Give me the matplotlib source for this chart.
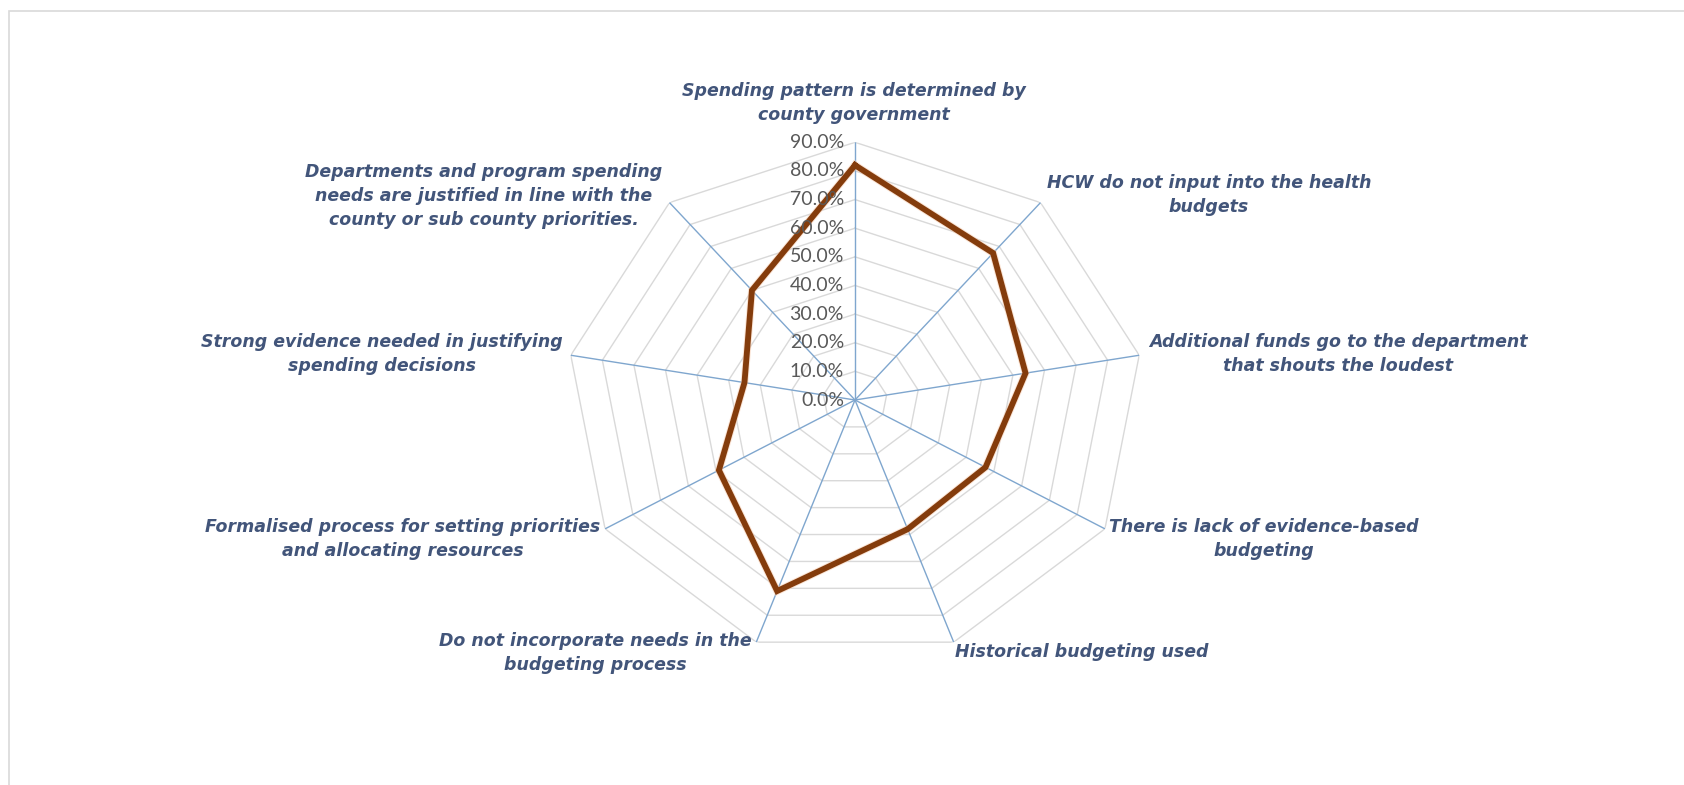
import numpy as np
import matplotlib.pyplot as plt
from matplotlib.patches import Rectangle

# survey results per statement (share of respondents)
categories = [
    "Spending pattern is determined by\ncounty government",
    "HCW do not input into the health\nbudgets",
    "Additional funds go to the department\nthat shouts the loudest",
    "There is lack of evidence-based\nbudgeting",
    "Historical budgeting used",
    "Do not incorporate needs in the\nbudgeting process",
    "Formalised process for setting priorities\nand allocating resources",
    "Strong evidence needed in justifying\nspending decisions",
    "Departments and program spending\nneeds are justified in line with the\ncounty or sub county priorities.",
]
values = [82, 67, 54, 47, 48, 71, 49, 35, 50]
levels = [0, 10, 20, 30, 40, 50, 60, 70, 80, 90]

# label anchor points in pixels (x from left, y from top)
label_pos = [(854, 103), (1209, 195), (1338, 354), (1264, 539), (1082, 652),
             (595, 653), (403, 539), (382, 354), (484, 196)]

W, H = 1684, 785
fig = plt.figure(figsize=(W / 100, H / 100), dpi=100)
fig.patch.set_facecolor("white")

# thin frame round the chart area
fig.patches.append(Rectangle((9 / W, -0.1), 1.2, 1 - 11 / H + 0.1, transform=fig.transFigure,
                             fill=False, edgecolor="#D9D9D9", linewidth=1.2))

cx, cy = 855, 400
ry, rx = 257.7, 288.6
ax = fig.add_axes([(cx - rx) / W, (H - cy - ry) / H, 2 * rx / W, 2 * ry / H], projection="polar")
ax.set_aspect("auto")
ax.set_theta_zero_location("N")
ax.set_theta_direction(-1)
ax.set_ylim(0, max(levels))
ax.grid(False)
ax.set_xticks([])
ax.set_yticks([])
ax.spines["polar"].set_visible(False)
ax.patch.set_visible(False)

n = len(categories)
angles = np.linspace(0, 2 * np.pi, n, endpoint=False)
closed = np.append(angles, angles[0])

# polygon gridlines
for lvl in levels[1:]:
    ax.plot(closed, [lvl] * (n + 1), color="#D9D9D9", linewidth=1.0, zorder=1)

# spokes
for a in angles:
    ax.plot([a, a], [0, max(levels)], color="#7FA6CE", linewidth=1.0, zorder=2)

# data series
vals = np.append(values, values[0])
ax.plot(closed, vals, color="#F8CBAD", linewidth=5.6, alpha=0.5, zorder=3, solid_joinstyle="miter")
ax.plot(closed, vals, color="#843C0C", linewidth=4.2, zorder=4, solid_joinstyle="miter")

# radial tick labels along the top spoke
for lvl in levels:
    ax.annotate(f"{lvl:.1f}%", xy=(0, lvl), xytext=(-11, 0), textcoords="offset pixels",
                ha="right", va="center", fontsize=14, color="#595959", family="Lato",
                annotation_clip=False, zorder=5)

for text, (px, py) in zip(categories, label_pos):
    fig.text(px / W, 1 - py / H, text, ha="center", va="center", multialignment="center",
             fontsize=12.5, fontstyle="italic", fontweight="bold", color="#42557A",
             family="DejaVu Sans", linespacing=1.4)

fig.savefig("out.png", dpi=100, facecolor="white")
